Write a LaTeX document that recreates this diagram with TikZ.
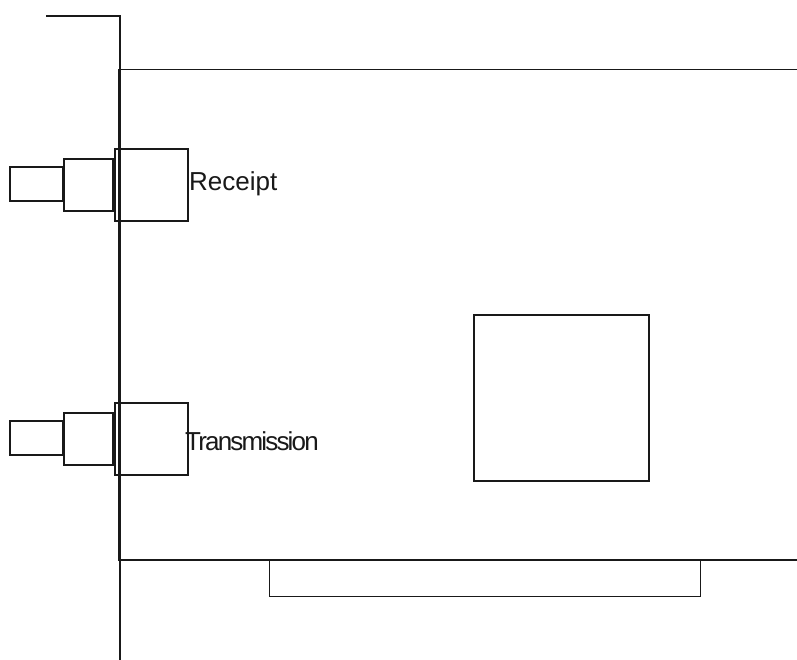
\documentclass[tikz,border=0pt]{standalone}
\usepackage{fontspec}
\setmainfont{Liberation Sans}
\definecolor{ink}{gray}{0.1}
\tikzset{heavybox/.style={draw=ink,line width=2.8pt},thinline/.style={draw=ink,line width=1pt},lab/.style={font=\fontsize{26}{28}\selectfont,inner sep=0pt,anchor=west,text=ink}}
\begin{document}
\begin{tikzpicture}[x=1pt,y=-1pt]
\useasboundingbox (0,0) rectangle (797,660);
\fill[white] (0,0) rectangle (797,660);
% bracket
\draw[line width=2.9pt,draw=ink] (46,16) -- (120,16) -- (120,660);
% card outline
\draw[thinline] (797,70) -- (118,70) -- (118,560);
\draw[line width=1.7pt,draw=ink] (118,560) -- (797,560);
\draw[thinline] (269,560) -- (269,596) -- (700,596) -- (700,560);
% chip
\draw[heavybox] (474,315) rectangle (649,481);
% receipt connector
\draw[heavybox] (10,167) rectangle (63,201);
\draw[heavybox] (64,159) rectangle (113,211);
\draw[heavybox] (115,149) rectangle (188,221);
\fill[ink] (61.5,167) rectangle (65,201);
\fill[ink] (111.5,159) rectangle (116,211);
% transmission connector
\draw[heavybox] (10,421) rectangle (63,455);
\draw[heavybox] (64,413) rectangle (113,465);
\draw[heavybox] (115,403) rectangle (188,475);
\fill[ink] (61.5,421) rectangle (65,455);
\fill[ink] (111.5,413) rectangle (116,465);
\node[lab] (r) at (189,184) {Receipt};
\node[lab] (t) at (185,441) {\addfontfeature{LetterSpace=-7}Transmission};
\end{tikzpicture}
\end{document}
